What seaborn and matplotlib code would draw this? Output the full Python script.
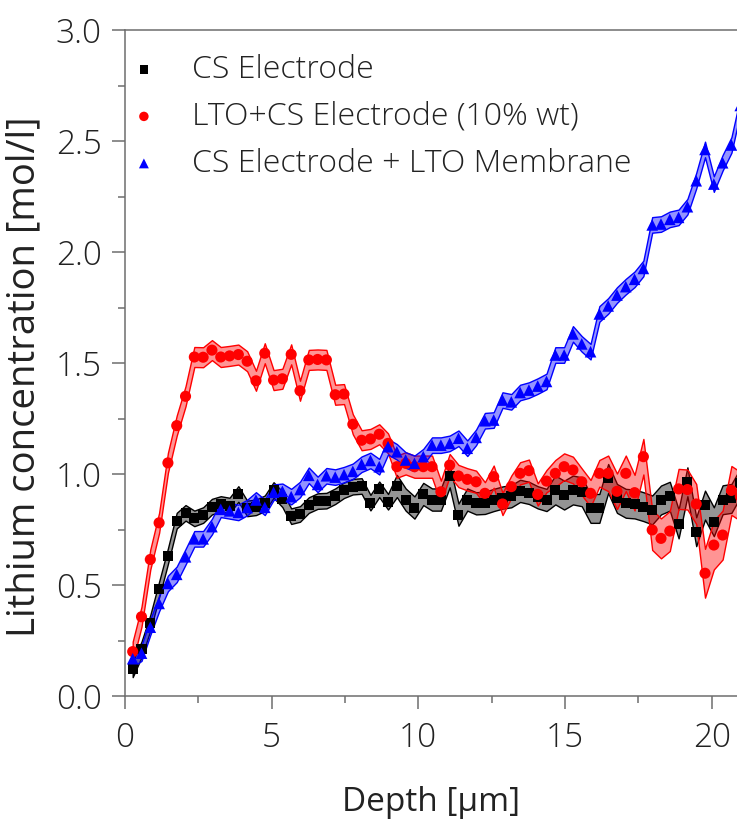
import numpy as np
import pandas as pd
import matplotlib
matplotlib.use("Agg")
import matplotlib.pyplot as plt
from matplotlib.colors import to_rgba
from matplotlib.ticker import MultipleLocator, FormatStrFormatter
import seaborn as sns

# Depth grid of the profile [µm]
depth = [0.27, 0.57, 0.87, 1.17, 1.47, 1.77, 2.07, 2.37, 2.67, 2.97,
         3.27, 3.57, 3.87, 4.17, 4.47, 4.77, 5.07, 5.37, 5.67, 5.97,
         6.27, 6.57, 6.87, 7.17, 7.47, 7.77, 8.07, 8.37, 8.67, 8.97,
         9.27, 9.57, 9.87, 10.17, 10.47, 10.77, 11.07, 11.37, 11.67, 11.97,
         12.27, 12.57, 12.87, 13.17, 13.47, 13.77, 14.07, 14.37, 14.67, 14.97,
         15.27, 15.57, 15.87, 16.17, 16.47, 16.77, 17.07, 17.37, 17.67, 17.97,
         18.27, 18.57, 18.87, 19.17, 19.47, 19.77, 20.07, 20.37, 20.67, 20.97]

# Lithium concentration [mol/l]
cs = [0.12, 0.21, 0.33, 0.48, 0.63, 0.79, 0.825, 0.80, 0.815, 0.853,
      0.865, 0.858, 0.91, 0.845, 0.85, 0.868, 0.928, 0.886, 0.81, 0.82,
      0.86, 0.878, 0.88, 0.90, 0.927, 0.943, 0.946, 0.871, 0.931, 0.875,
      0.946, 0.885, 0.849, 0.91, 0.885, 0.885, 0.99, 0.817, 0.885, 0.868,
      0.87, 0.883, 0.894, 0.90, 0.924, 0.915, 0.895, 0.883, 0.928, 0.905,
      0.928, 0.92, 0.845, 0.845, 0.98, 0.89, 0.868, 0.865, 0.853, 0.838,
      0.883, 0.90, 0.775, 0.965, 0.74, 0.86, 0.785, 0.884, 0.89, 0.96]

lto_cs = [0.20, 0.357, 0.615, 0.78, 1.05, 1.218, 1.35, 1.527, 1.526, 1.558,
          1.527, 1.532, 1.538, 1.508, 1.42, 1.544, 1.423, 1.429, 1.539, 1.375,
          1.514, 1.516, 1.514, 1.357, 1.36, 1.224, 1.152, 1.158, 1.179, 1.138,
          1.033, 1.048, 1.033, 1.033, 1.033, 0.92, 1.04, 0.991, 0.976, 0.965,
          0.913, 0.988, 0.865, 0.943, 1.003, 1.015, 0.908, 0.968, 1.003, 1.033,
          1.018, 0.965, 0.913, 1.003, 1.003, 0.922, 1.003, 0.916, 1.078, 0.748,
          0.71, 0.743, 0.933, 0.93, 0.865, 0.553, 0.68, 0.725, 0.926, 0.90]

cs_membrane = [0.168, 0.193, 0.31, 0.417, 0.507, 0.548, 0.627, 0.708, 0.708, 0.763,
               0.841, 0.834, 0.827, 0.849, 0.883, 0.85, 0.918, 0.922, 0.898, 0.93,
               0.994, 0.953, 0.992, 0.986, 0.997, 1.012, 1.044, 1.061, 1.033, 1.123,
               1.10, 1.063, 1.048, 1.078, 1.13, 1.13, 1.138, 1.161, 1.116, 1.165,
               1.24, 1.243, 1.333, 1.325, 1.367, 1.378, 1.396, 1.417, 1.536, 1.536,
               1.631, 1.586, 1.551, 1.721, 1.757, 1.806, 1.844, 1.877, 1.926, 2.122,
               2.126, 2.147, 2.156, 2.204, 2.321, 2.462, 2.306, 2.402, 2.482, 2.66]

# Half-width of the uncertainty band [mol/l]
cs_err = [0.035] * 30 + [0.05] * 18 + [0.065] * 22
lto_cs_err = [0.045] * 30 + [0.05] * 18 + [0.06] * 6 + [0.08] * 5 + [0.09] * 6 + [0.11] * 5
cs_membrane_err = [0.035] * 70

labels = ["CS Electrode", "LTO+CS Electrode (10% wt)", "CS Electrode + LTO Membrane"]
colors = ["#000000", "#ff0000", "#0000ff"]
markers = ["s", "o", "^"]
sizes = [52, 64, 70]

series = [(cs, cs_err), (lto_cs, lto_cs_err), (cs_membrane, cs_membrane_err)]

sns.set_theme(style="ticks")
plt.rcParams["font.family"] = ["Open Sans", "DejaVu Sans"]
plt.rcParams["font.weight"] = "light"

text_color = "#222222"
axis_color = "#6e6e6e"

fig = plt.figure(figsize=(7.37, 8.22), dpi=100)
ax = fig.add_axes([0.1693, 0.15328, 0.8323, 0.81022])

for (vals, err), lab, col, mk, sz in zip(series, labels, colors, markers, sizes):
    df = pd.DataFrame({"depth": depth, "conc": vals, "err": err})
    lo = df["conc"] - df["err"]
    hi = df["conc"] + df["err"]
    ax.fill_between(df["depth"], lo, hi, facecolor=to_rgba(col, 0.42),
                    edgecolor=col, linewidth=1.0)
    sns.scatterplot(data=df, x="depth", y="conc", ax=ax, color=col, marker=mk,
                    s=sz, edgecolor="none", linewidth=0, label=lab, zorder=3)

ax.set_xlim(0, 20.9)
ax.set_ylim(0, 3.0)
ax.xaxis.set_major_locator(MultipleLocator(5))
ax.xaxis.set_minor_locator(MultipleLocator(2.5))
ax.yaxis.set_major_locator(MultipleLocator(0.5))
ax.yaxis.set_minor_locator(MultipleLocator(0.25))
ax.xaxis.set_major_formatter(FormatStrFormatter("%d"))
ax.yaxis.set_major_formatter(FormatStrFormatter("%.1f"))

for side in ["left", "bottom", "top"]:
    ax.spines[side].set_color(axis_color)
    ax.spines[side].set_linewidth(1.1)
ax.spines["right"].set_visible(False)

ax.tick_params(axis="both", which="major", direction="out", length=9.6, width=1.1,
               color=axis_color, labelsize=24, labelcolor=text_color, pad=7)
ax.tick_params(axis="x", which="major", pad=9)
ax.tick_params(axis="both", which="minor", direction="out", length=4.8, width=1.1,
               color=axis_color)
ax.tick_params(axis="x", which="both", top=False)
ax.tick_params(axis="y", which="both", right=False)

ax.set_xlabel("Depth [µm]", fontsize=24, color=text_color, labelpad=22)
ax.set_ylabel("Lithium concentration [mol/l]", fontsize=27.5, color=text_color)
ax.yaxis.set_label_coords(-0.1334, 0.48)

leg = ax.legend(loc="upper left", frameon=False, fontsize=23, markerscale=0.85,
                handlelength=1.0, handletextpad=1.0, borderaxespad=0.0,
                borderpad=0.4, labelspacing=0.47,
                bbox_to_anchor=(-0.0157, 0.9835))
for t in leg.get_texts():
    t.set_color(text_color)

fig.savefig("out.png", dpi=100)
